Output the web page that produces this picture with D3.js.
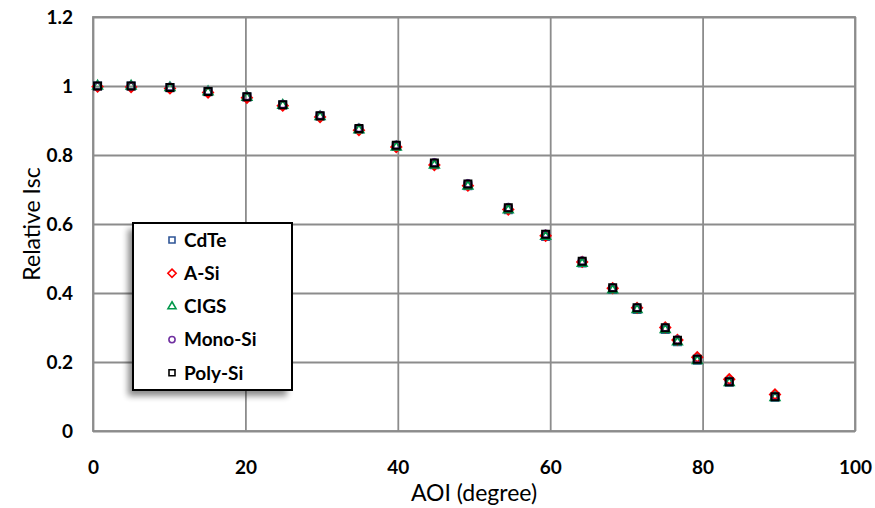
<!DOCTYPE html>
<html>
<head>
<meta charset="utf-8">
<script src="https://cdn.jsdelivr.net/npm/d3@7/dist/d3.min.js"></script>
<style>
  html, body { margin: 0; padding: 0; background: #fff; }
  svg { display: block; font-family: Lato, "Open Sans", "Liberation Sans", sans-serif; }
</style>
</head>
<body>
<svg id="chart" width="875" height="508"></svg>
<script>
// Angle of incidence (degrees)
const aoi = [0.6, 5, 10.1, 15.1, 20.2, 24.9, 29.8, 34.9, 39.8, 44.8, 49.2, 54.5, 59.4, 64.2, 68.2, 71.4, 75.1, 76.7, 79.3, 83.5, 89.5];

// Relative short-circuit current per module technology
const cdte = [1.0, 1.0, 0.995, 0.983, 0.968, 0.945, 0.912, 0.874, 0.825, 0.772, 0.711, 0.641, 0.564, 0.487, 0.410, 0.352, 0.294, 0.259, 0.205, 0.141, 0.098];
const asi  = [0.998, 0.997, 0.993, 0.981, 0.966, 0.943, 0.910, 0.872, 0.823, 0.771, 0.711, 0.642, 0.566, 0.490, 0.414, 0.357, 0.300, 0.264, 0.214, 0.150, 0.106];
const cigs = [1.0, 1.0, 0.995, 0.983, 0.967, 0.944, 0.911, 0.873, 0.823, 0.771, 0.710, 0.641, 0.564, 0.486, 0.409, 0.352, 0.294, 0.258, 0.204, 0.140, 0.097];
const mono = [1.0, 1.0, 0.997, 0.985, 0.970, 0.947, 0.915, 0.878, 0.829, 0.778, 0.717, 0.648, 0.571, 0.493, 0.416, 0.358, 0.300, 0.264, 0.209, 0.144, 0.100];
const poly = [1.0, 1.0, 0.996, 0.984, 0.969, 0.946, 0.914, 0.877, 0.828, 0.777, 0.716, 0.647, 0.570, 0.492, 0.415, 0.357, 0.299, 0.263, 0.208, 0.143, 0.099];

const seriesNames = ["CdTe", "A-Si", "CIGS", "Mono-Si", "Poly-Si"];
const seriesValues = [cdte, asi, cigs, mono, poly];
const seriesColors = ["#2f5597", "#ff0000", "#00974a", "#7030a0", "#000000"];

// Square-proportioned diamond (d3's built-in one is elongated)
const diamond = {
  draw(ctx, size) {
    const r = Math.sqrt(size / 2);
    ctx.moveTo(0, -r); ctx.lineTo(r, 0); ctx.lineTo(0, r); ctx.lineTo(-r, 0); ctx.closePath();
  }
};
const seriesShapes = [d3.symbolSquare, diamond, d3.symbolTriangle, d3.symbolCircle, d3.symbolSquare];

const xTicks = [0, 20, 40, 60, 80, 100];
const yTicks = [0, 0.2, 0.4, 0.6, 0.8, 1.0, 1.2];

const svg = d3.select("#chart");
const plotLeft = 93, plotRight = 855, plotTop = 17, plotBottom = 431;

const x = d3.scaleLinear().domain([0, 100]).range([plotLeft, plotRight]);
const y = d3.scaleLinear().domain([0, 1.2]).range([plotBottom, plotTop]);

const gridColor = "#8c8c8c";

// Gridlines
svg.append("g")
  .attr("transform", `translate(0,${plotBottom})`)
  .call(d3.axisBottom(x).tickValues(xTicks).tickSize(-(plotBottom - plotTop)).tickFormat(""))
  .call(g => g.select(".domain").remove())
  .call(g => g.selectAll("line").attr("stroke", gridColor).attr("stroke-width", 1.8));

svg.append("g")
  .attr("transform", `translate(${plotLeft},0)`)
  .call(d3.axisLeft(y).tickValues(yTicks).tickSize(-(plotRight - plotLeft)).tickFormat(""))
  .call(g => g.select(".domain").remove())
  .call(g => g.selectAll("line").attr("stroke", gridColor).attr("stroke-width", 1.8));

// Plot frame
svg.append("rect")
  .attr("x", plotLeft).attr("y", plotTop)
  .attr("width", plotRight - plotLeft).attr("height", plotBottom - plotTop)
  .attr("fill", "none").attr("stroke", gridColor).attr("stroke-width", 1.8);

// Tick labels
const xAxis = svg.append("g")
  .attr("transform", `translate(0,${plotBottom})`)
  .call(d3.axisBottom(x).tickValues(xTicks).tickSize(0).tickPadding(30).tickFormat(d3.format("d")));
xAxis.select(".domain").remove();
xAxis.selectAll("text").attr("font-size", 19).attr("font-weight", "bold").attr("fill", "#000")
  .attr("font-family", "Lato, sans-serif");

const yAxis = svg.append("g")
  .attr("transform", `translate(${plotLeft},0)`)
  .call(d3.axisLeft(y).tickValues(yTicks).tickSize(0).tickPadding(20).tickFormat(d => String(+d.toFixed(1))));
yAxis.select(".domain").remove();
yAxis.selectAll("text").attr("font-size", 19).attr("font-weight", "bold").attr("fill", "#000")
  .attr("font-family", "Lato, sans-serif");

// Axis titles
svg.append("text")
  .attr("x", 474).attr("y", 501)
  .attr("text-anchor", "middle").attr("font-size", 23).attr("fill", "#000")
  .text("AOI (degree)");

svg.append("text")
  .attr("transform", `translate(40,${(plotTop + plotBottom) / 2}) rotate(-90)`)
  .attr("text-anchor", "middle").attr("font-size", 23).attr("fill", "#000")
  .text("Relative Isc");

// Markers (hollow, later series on top)
const markerSizes = [49, 50, 36, 40, 49];
seriesValues.forEach((vals, i) => {
  const sym = d3.symbol().type(seriesShapes[i]).size(markerSizes[i]);
  svg.append("g").selectAll("path")
    .data(vals.map((v, k) => [aoi[k], v]))
    .join("path")
    .attr("transform", d => `translate(${x(d[0])},${y(d[1])})`)
    .attr("d", sym)
    .attr("fill", "none")
    .attr("stroke", seriesColors[i])
    .attr("stroke-width", 2);
});

// Legend with soft drop shadow
const defs = svg.append("defs");
const f = defs.append("filter").attr("id", "shadow")
  .attr("x", "-20%").attr("y", "-20%").attr("width", "140%").attr("height", "140%");
f.append("feGaussianBlur").attr("stdDeviation", 3);

const lx = 133, ly = 223, lw = 159, lh = 167;
svg.append("rect")
  .attr("x", lx - 5).attr("y", ly + 6).attr("width", lw).attr("height", lh)
  .attr("fill", "#000").attr("opacity", 0.45).attr("filter", "url(#shadow)");
svg.append("rect")
  .attr("x", lx).attr("y", ly).attr("width", lw).attr("height", lh)
  .attr("fill", "#fff").attr("stroke", "#000").attr("stroke-width", 2);

const legendSizes = [36, 34, 28, 30, 36];
seriesNames.forEach((name, i) => {
  const cy = ly + 17 + i * 33.2;
  svg.append("path")
    .attr("transform", `translate(${lx + 39},${cy})`)
    .attr("d", d3.symbol().type(seriesShapes[i]).size(legendSizes[i]))
    .attr("fill", "none").attr("stroke", seriesColors[i]).attr("stroke-width", 1.6);
  svg.append("text")
    .attr("x", lx + 51).attr("y", cy).attr("dy", "0.36em")
    .attr("font-size", 19).attr("font-weight", "bold").attr("fill", "#000")
    .text(name);
});
</script>
</body>
</html>
